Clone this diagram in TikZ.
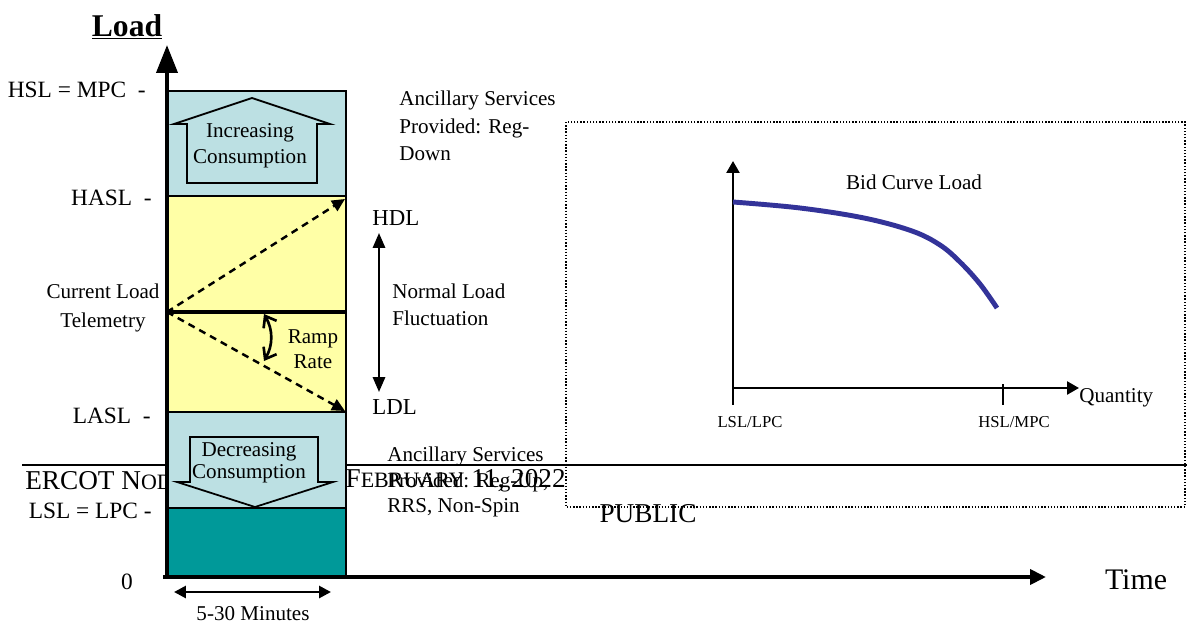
\documentclass[tikz,border=0pt]{standalone}
\usepackage{fontspec}
\setmainfont{Liberation Serif}
\definecolor{padblue}{HTML}{BCE0E3}
\definecolor{padyellow}{HTML}{FFFFA6}
\definecolor{padteal}{HTML}{009999}
\definecolor{bidblue}{HTML}{333399}
\usetikzlibrary{arrows.meta,positioning}
\newcommand{\fsc}[1]{{\fontsize{12.5}{14}\selectfont #1}}
\tikzset{
  lbl/.style={inner sep=0pt, font=\fontsize{12}{14.5}\selectfont},
  level lbl/.style={inner sep=0pt, anchor=east, font=\fontsize{13.3}{15}\selectfont},
  small lbl/.style={inner sep=0pt, font=\fontsize{9.5}{11}\selectfont},
  big lbl/.style={inner sep=0pt, font=\fontsize{15.5}{17}\selectfont},
  padpart/.style={draw=black, line width=1.1pt},
  blockarrow/.style={draw=black, line width=1pt, fill=padblue},
  mainaxis/.style={line width=2.2pt, -{Triangle[length=0.56cm, width=0.42cm]}},
  timeaxis/.style={line width=2.2pt, -{Triangle[length=0.32cm, width=0.3cm]}},
  ramp/.style={line width=1.4pt, dash pattern=on 4pt off 3pt, -{Triangle[length=0.26cm, width=0.24cm]}},
  span/.style={line width=1.6pt, {Triangle[length=0.3cm, width=0.24cm]}-{Triangle[length=0.3cm, width=0.24cm]}},
  qaxis/.style={line width=1.4pt, -{Triangle[length=0.24cm, width=0.26cm]}},
}

\begin{document}
\begin{tikzpicture}[x=0.02cm, y=-0.02cm]
        \useasboundingbox (0,0) rectangle (1187,622);
        % footer of the page, partly hidden by the bar
        \coordinate (footL) at (22,465);
        \coordinate (footR) at (1187,465);
        \draw[line width=1.7pt] (footL) -- (footR);
        \node[big lbl, anchor=west] (footer1) at (25,481) {ERCOT N\fsc{OD}};
        \node[big lbl, anchor=east] (footer2) at (566,481) {– F\fsc{EBRUARY} 11, 2022};
        \node[big lbl] (public) at (648,514) {PUBLIC};

        \coordinate (origin) at (167,577);
        \coordinate (ytip) at (167,45);
        \coordinate (xtip) at (1046,577);
        \coordinate (cur) at (167,312);
        \coordinate (curR) at (346,312);
        \coordinate (hdlTip) at (345,199);
        \coordinate (ldlTip) at (345,411);

        \fill[padblue] (167,91) rectangle (346,196);
        \fill[padyellow] (167,196) rectangle (346,412);
        \fill[padblue] (167,412) rectangle (346,508);
        \fill[padteal] (167,508) rectangle (346,577);
        \draw[padpart] (167,91) rectangle (346,577);
        \draw[padpart] (167,196) -- (346,196);
        \draw[padpart] (167,412) -- (346,412);
        \draw[line width=0.8pt] (167,508) -- (346,508);

        \draw[blockarrow] (187,183) -- (187,124) -- (174,124) -- (252,98) -- (330,124) -- (317,124) -- (317,183) -- cycle;
        \node[lbl, align=center] (incr) at (250,146) {Increasing\\Consumption};
        \draw[blockarrow] (190,437) -- (318,437) -- (318,482) -- (333,482) -- (255,507) -- (177,482) -- (190,482) -- cycle;
        \node[lbl, align=center, font=\fontsize{12}{12.5}\selectfont] (decr) at (249,463) {Decreasing\\Consumption};

        \draw[line width=2.2pt] (cur) -- (curR);
        \draw[ramp] (cur) -- (hdlTip);
        \draw[ramp] (cur) -- (ldlTip);
        \coordinate (rampTop) at (264,314);
        \coordinate (rampBot) at (264,361);
        \draw[line width=1.5pt, {Straight Barb[length=0.2cm, width=0.3cm]}-{Straight Barb[length=0.2cm, width=0.3cm]}] (rampTop) to[bend left=30] (rampBot);
        \node[lbl, align=center] (rampRate) at (313,349) {Ramp\\Rate};

        \draw[mainaxis] (origin) -- (ytip);
        \draw[timeaxis] ([xshift=-2pt]origin) -- (xtip);

        \node[inner sep=0pt, font=\fontsize{18}{20}\selectfont\bfseries] (loadTitle) at (127,27) {\underline{Load}};
        \node[level lbl] (hsl) at (146,90) {HSL = MPC\ \ -};
        \node[level lbl] (hasl) at (152,198) {HASL\ \ -};
        \node[lbl, align=center] (curLoad) at (103,308) {Current Load\\[2pt]Telemetry};
        \node[level lbl] (lasl) at (151,416) {LASL\ \ -};
        \node[level lbl] (lsl) at (152,511) {LSL = LPC -};
        \node[level lbl, anchor=center] (zero) at (127,582) {0};
        \node[inner sep=0pt, font=\fontsize{17}{19}\selectfont] (time) at (1136,580) {Time};

        \node[lbl, anchor=west, font=\fontsize{13}{15}\selectfont] (hdl) at (372,218) {HDL};
        \node[lbl, anchor=west, font=\fontsize{13}{15}\selectfont] (ldl) at (372,407) {LDL};
        \draw[span] ([yshift=-4pt]hdl.south -| 379,0) -- ([yshift=4pt]ldl.north -| 379,0);
        \node[lbl, anchor=west, align=left] (normal) at (392,305) {Normal Load\\[1pt]Fluctuation};

        \node[lbl, anchor=west, align=left] (ancUp) at (399,126) {Ancillary Services\\[1pt]Provided: Reg-\\[1pt]Down};
        \node[lbl, anchor=west, align=left] (ancDn) at (387,482) {Ancillary Services\\Provided: Reg-Up,\\RRS, Non-Spin};

        \coordinate (spanL) at (174,592);
        \coordinate (spanR) at (331,592);
        \draw[line width=1.6pt, {Triangle[length=0.24cm, width=0.24cm]}-{Triangle[length=0.24cm, width=0.24cm]}] (spanL) -- (spanR);
        \node[lbl] (minutes) at (253,614) {5-30 Minutes};

        % bid curve inset
        \draw[densely dotted, line width=0.8pt] (566,122) rectangle (1185,507);
        \coordinate (qo) at (733,388);
        \coordinate (qy) at (733,161);
        \coordinate (qx) at (1079,388);
        \draw[qaxis] (qo) -- (qy);
        \draw[qaxis] (qo) -- (qx);
        \draw[line width=0.6pt] (qo) -- (733,405);
        \draw[line width=0.6pt] (1003,384) -- (1003,405);
        \node[small lbl] (lslLpc) at (750,422) {LSL/LPC};
        \node[small lbl] (hslMpc) at (1014,422) {HSL/MPC};
        \node[lbl, anchor=west] (quantity) at (1079,398) {Quantity};
        \node[lbl] (bidTitle) at (914,182) {Bid Curve Load};
        \draw[bidblue, line width=2.8pt] plot[smooth, tension=0.6] coordinates {(733,202) (800,208) (864,218) (912,231) (940,245) (960,262) (980,284) (997,308)};
\end{tikzpicture}
\end{document}
